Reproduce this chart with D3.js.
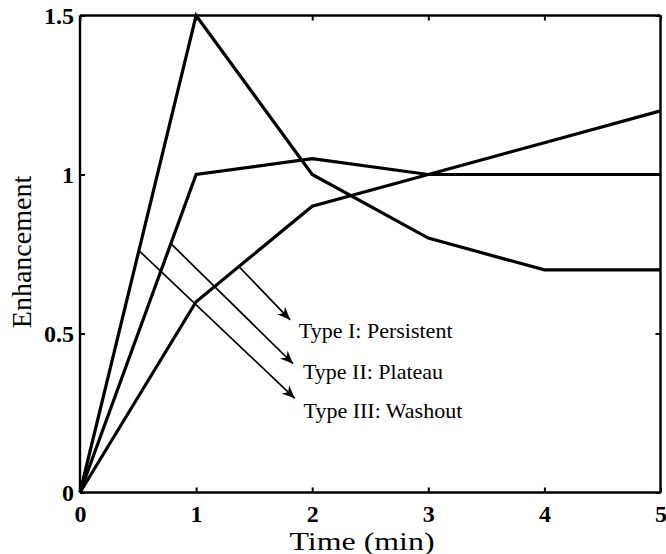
<!DOCTYPE html>
<html>
<head>
<meta charset="utf-8">
<script src="https://cdn.jsdelivr.net/npm/d3@7"></script>
<style>
  html, body { margin: 0; padding: 0; background: #fff; }
  svg { display: block; font-family: "Liberation Serif", "Times New Roman", serif; }
</style>
</head>
<body>
<svg id="chart" width="666" height="554"></svg>
<script>
// Kinetic curve types: signal enhancement over time after contrast injection
const times = [0, 1, 2, 3, 4, 5];
const persistent = [0, 0.6, 0.9, 1.0, 1.1, 1.2];
const plateau = [0, 1.0, 1.05, 1.0, 1.0, 1.0];
const washout = [0, 1.5, 1.0, 0.8, 0.7, 0.7];

const xTicks = [0, 1, 2, 3, 4, 5];
const yTicks = [0, 0.5, 1, 1.5];
const yTickLabels = ["0", "0.5", "1", "1.5"];

const curveNames = ["Type I: Persistent", "Type II: Plateau", "Type III: Washout"];
// arrow start (on the curve), arrow tip, and label anchor, in data units
const arrowStarts = [[1.37, 0.71], [0.79, 0.78], [0.51, 0.76]];
const arrowTips = [[1.81, 0.543], [1.835, 0.405], [1.85, 0.296]];
const labelAnchors = [[1.885, 0.511], [1.92, 0.38], [1.925, 0.259]];

const svg = d3.select("#chart");
const margin = { left: 80, right: 5.5, top: 15.5, bottom: 61.5 };
const W = 666, H = 554;

const x = d3.scaleLinear().domain([0, 5]).range([margin.left, W - margin.right]);
const y = d3.scaleLinear().domain([0, 1.5]).range([H - margin.bottom, margin.top]);

// arrowhead marker
svg.append("defs").append("marker")
  .attr("id", "head")
  .attr("viewBox", "-14 -7 16 14")
  .attr("refX", 0).attr("refY", 0)
  .attr("markerWidth", 16).attr("markerHeight", 14)
  .attr("markerUnits", "userSpaceOnUse")
  .attr("orient", "auto")
  .append("path")
  .attr("d", "M0,0 L-13,-5.5 L-9,0 L-13,5.5 Z")
  .attr("fill", "#000");

// data curves
const line = d3.line().x((d, i) => x(times[i])).y(d => y(d));
[persistent, plateau, washout].forEach(series => {
  svg.append("path")
    .datum(series)
    .attr("d", line)
    .attr("fill", "none")
    .attr("stroke", "#000")
    .attr("stroke-width", 3.2)
    .attr("stroke-linejoin", "miter");
});

// annotation arrows and labels
curveNames.forEach((name, i) => {
  svg.append("line")
    .attr("x1", x(arrowStarts[i][0])).attr("y1", y(arrowStarts[i][1]))
    .attr("x2", x(arrowTips[i][0])).attr("y2", y(arrowTips[i][1]))
    .attr("stroke", "#000")
    .attr("stroke-width", 1.7)
    .attr("marker-end", "url(#head)");
  svg.append("text")
    .attr("x", x(labelAnchors[i][0]))
    .attr("y", y(labelAnchors[i][1]))
    .attr("dy", "0.35em")
    .attr("font-size", 22)
    .text(name);
});

// axes: bottom and left with labels, top and right mirrored without labels
const tickLen = 5;
const xAxis = d3.axisBottom(x).tickValues(xTicks).tickSize(-tickLen).tickPadding(12).tickFormat(d3.format("d"));
const yAxis = d3.axisLeft(y).tickValues(yTicks).tickSize(-tickLen).tickPadding(6)
  .tickFormat((d, i) => yTickLabels[i]);
const xTop = d3.axisTop(x).tickValues(xTicks).tickSize(-tickLen).tickFormat("");
const yRight = d3.axisRight(y).tickValues(yTicks).tickSize(-tickLen).tickFormat("");

function styleAxis(g) {
  g.select(".domain").attr("stroke", "#000").attr("stroke-width", 2.4);
  g.selectAll(".tick line").attr("stroke", "#000").attr("stroke-width", 2);
  g.selectAll(".tick text")
    .attr("fill", "#000")
    .attr("font-family", "Liberation Serif, serif")
    .attr("font-weight", "bold")
    .attr("font-size", 24);
}

svg.append("g").attr("transform", `translate(0,${y(0)})`).call(xAxis).call(styleAxis)
  .call(g => g.selectAll(".domain").attr("d", `M${x(0)},0H${x(5)}`));
svg.append("g").attr("transform", `translate(${x(0)},0)`).call(yAxis).call(styleAxis)
  .call(g => g.selectAll(".domain").attr("d", `M0,${y(0)}V${y(1.5)}`));
svg.append("g").attr("transform", `translate(0,${y(1.5)})`).call(xTop).call(styleAxis)
  .call(g => g.selectAll(".domain").attr("d", `M${x(0)},0H${x(5)}`));
svg.append("g").attr("transform", `translate(${x(5)},0)`).call(yRight).call(styleAxis)
  .call(g => g.selectAll(".domain").attr("d", `M0,${y(0)}V${y(1.5)}`));

// axis titles
svg.append("text")
  .attr("x", 362)
  .attr("y", 550)
  .attr("text-anchor", "middle")
  .attr("font-size", 25)
  .attr("textLength", 145)
  .attr("lengthAdjust", "spacingAndGlyphs")
  .text("Time (min)");
svg.append("text")
  .attr("transform", `translate(31,${(y(0) + y(1.5)) / 2 - 2}) rotate(-90)`)
  .attr("text-anchor", "middle")
  .attr("font-size", 28)
  .text("Enhancement");
</script>
</body>
</html>
